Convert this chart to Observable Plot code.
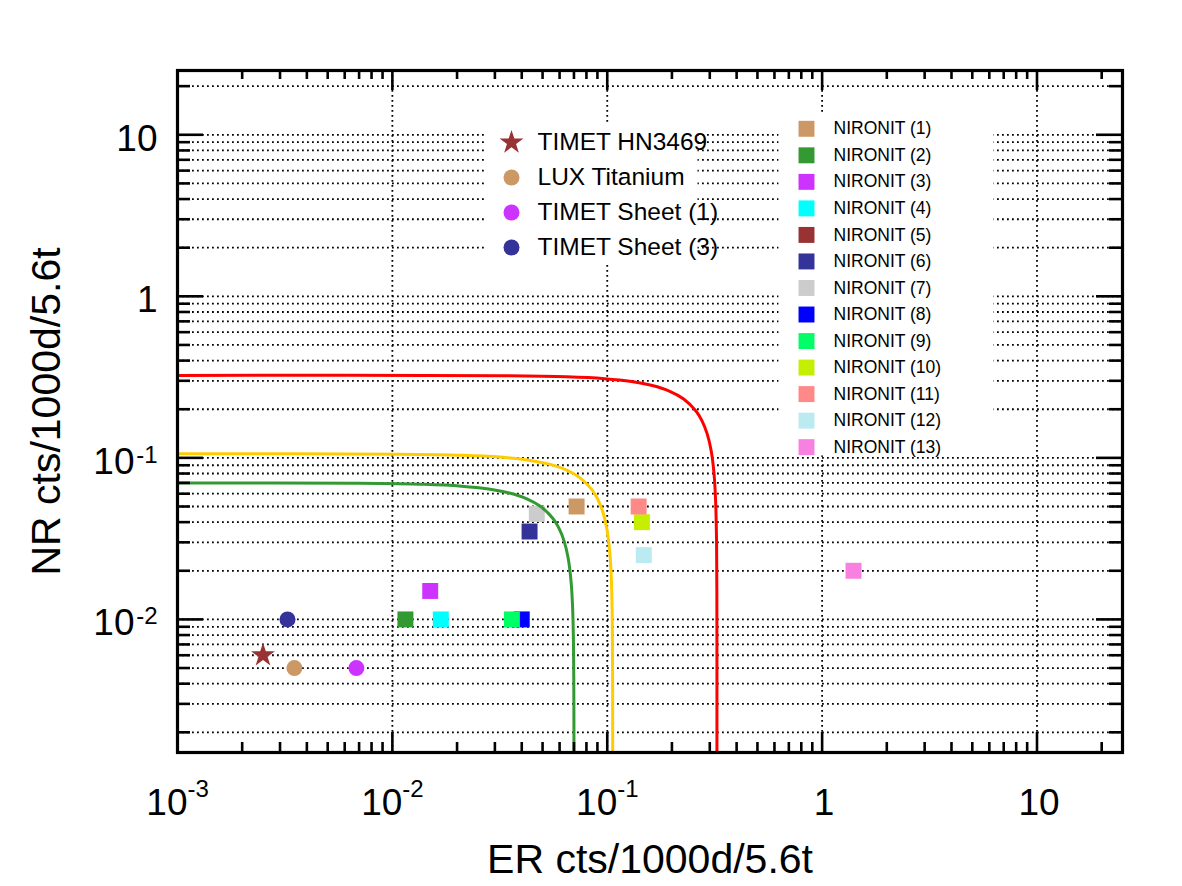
<!DOCTYPE html>
<html>
<head>
<meta charset="utf-8">
<script src="https://cdn.jsdelivr.net/npm/d3@7"></script>
<script src="https://cdn.jsdelivr.net/npm/@observablehq/plot@0.6"></script>
<style>
  html, body { margin: 0; padding: 0; background: #ffffff; }
  #chart { width: 1182px; height: 886px; }
</style>
</head>
<body>
<div id="chart"></div>
<script>
// ---- Titanium samples: ER and NR rates (cts / 1000 d / 5.6 t)
const tiNames = ["TIMET HN3469", "LUX Titanium", "TIMET Sheet (1)", "TIMET Sheet (3)"];
const tiER = [0.0025, 0.0035, 0.0068, 0.00325];
const tiNR = [0.006, 0.005, 0.005, 0.01];
const tiSymbols = ["star", "circle", "circle", "circle"];
const tiColors = ["#993333", "#cc9966", "#cc33ff", "#333399"];

// ---- NIRONIT steel samples (sample 5 has no point inside the plotted range)
const niNames = ["NIRONIT (1)", "NIRONIT (2)", "NIRONIT (3)", "NIRONIT (4)", "NIRONIT (5)",
  "NIRONIT (6)", "NIRONIT (7)", "NIRONIT (8)", "NIRONIT (9)", "NIRONIT (10)",
  "NIRONIT (11)", "NIRONIT (12)", "NIRONIT (13)"];
const niER = [0.072, 0.0115, 0.015, 0.0168, null, 0.0435, 0.047, 0.040, 0.036, 0.145, 0.140, 0.148, 1.4];
const niNR = [0.05, 0.01, 0.015, 0.01, null, 0.035, 0.045, 0.01, 0.01, 0.04, 0.05, 0.025, 0.02];
const niColors = ["#cc9966", "#339933", "#cc33ff", "#00ffff", "#993333", "#333399", "#cccccc",
  "#0000ff", "#00ff66", "#c6ee00", "#ff8888", "#bbeaf0", "#f780e0"];

// ---- Background limit contours
const redER = [0.001, 0.0324, 0.0648, 0.0972, 0.1296, 0.162, 0.1944, 0.2268, 0.2592, 0.2754, 0.2916, 0.3046, 0.3143, 0.3191, 0.3224, 0.3237, 0.324];
const redNR = [0.324, 0.3224, 0.3175, 0.3091, 0.297, 0.2806, 0.2592, 0.2314, 0.1944, 0.1707, 0.1412, 0.1105, 0.0788, 0.0559, 0.0324, 0.0145, 0.0015];
const goldER = [0.001, 0.0106, 0.0212, 0.0318, 0.0424, 0.053, 0.0636, 0.0742, 0.0848, 0.0901, 0.0954, 0.09964, 0.10282, 0.10441, 0.10547, 0.10589, 0.106];
const goldNR = [0.106, 0.10547, 0.10386, 0.10112, 0.09715, 0.0918, 0.0848, 0.0757, 0.0636, 0.05584, 0.0462, 0.03616, 0.02577, 0.01829, 0.01059, 0.00474, 0.0015];
const greenER = [0.001, 0.007, 0.014, 0.021, 0.028, 0.035, 0.042, 0.049, 0.056, 0.0595, 0.063, 0.0658, 0.0679, 0.06895, 0.06965, 0.06993, 0.070];
const greenNR = [0.070, 0.06965, 0.06859, 0.06678, 0.06416, 0.06062, 0.056, 0.04999, 0.042, 0.03687, 0.03051, 0.02388, 0.01702, 0.01208, 0.00699, 0.00313, 0.0015];

// ---- Axis ticks and labels
const xMajor = [0.01, 0.1, 1, 10];
const yMajor = [0.01, 0.1, 1, 10];
const xTickValues = [0.001, 0.01, 0.1, 1, 10];
const xTickBase = ["10", "10", "10", "1", "10"];
const xTickExp = ["-3", "-2", "-1", "", ""];
const yTickValues = [0.01, 0.1, 1, 10];
const yTickBase = ["10", "10", "1", "10"];
const yTickExp = ["-2", "-1", "", ""];
const xTitle = "ER cts/1000d/5.6t";
const yTitle = "NR cts/1000d/5.6t";

const xDomain = [0.001, 25];
const yDomain = [0.0015, 25];

// minor ticks: 2..9 within each decade, kept inside the domain
function minorTicks([lo, hi]) {
  const out = [];
  for (let e = -4; e <= 2; e++) {
    for (let m = 2; m <= 9; m++) {
      const v = +(m * Math.pow(10, e)).toPrecision(6);
      if (v > lo && v < hi) out.push(v);
    }
  }
  return out;
}
const xMinor = minorTicks(xDomain);
const yMinor = minorTicks(yDomain);

// ---- Tables built from the arrays
const tiRows = tiNames.map((name, i) => ({name, er: tiER[i], nr: tiNR[i], symbol: tiSymbols[i], color: tiColors[i]}));
const niRows = niNames.map((name, i) => ({name, er: niER[i], nr: niNR[i], color: niColors[i]}))
  .filter(d => d.er != null && d.nr != null);
const curveRows = [
  ...redER.map((er, i) => ({name: "red", er, nr: redNR[i], color: "#ff0000"})),
  ...goldER.map((er, i) => ({name: "gold", er, nr: goldNR[i], color: "#ffcc00"})),
  ...greenER.map((er, i) => ({name: "green", er, nr: greenNR[i], color: "#339933"}))
];
const xLabels = xTickValues.map((v, i) => ({v, base: xTickBase[i], exp: xTickExp[i]}));
const yLabels = yTickValues.map((v, i) => ({v, base: yTickBase[i], exp: yTickExp[i]}));

// ---- Layout
const W = 1182, H = 886;
const mL = 177, mR = 60, mT = 70, mB = 134;
const fw = W - mL - mR;
const fh = H - mT - mB;
const font = "Liberation Sans, Arial, Helvetica, sans-serif";
const grid = {stroke: "#000", strokeWidth: 1.8, strokeDasharray: "1.8,3.2"};
const tick = {stroke: "#000", strokeWidth: 2.6};
const starR = 7.5, circleR = 8, squareR = 9;

// legend entries
const legendTi = tiRows.flatMap((d, i) => [
  Plot.dot([d], {frameAnchor: "top-left", dx: 334, dy: 72 + 35 * i, symbol: d.symbol,
    r: d.symbol === "star" ? starR : circleR, fill: d.color, stroke: "none"}),
  Plot.text([d], {frameAnchor: "top-left", dx: 360, dy: 72 + 35 * i, text: "name",
    textAnchor: "start", lineAnchor: "middle", fontSize: 24.5, fontFamily: font, fill: "#000"})
]);
const legendNi = niNames.flatMap((name, i) => [
  Plot.dot([name], {frameAnchor: "top-left", dx: 629, dy: 58.3 + 26.53 * i, symbol: "square",
    r: squareR, fill: niColors[i], stroke: "none"}),
  Plot.text([name], {frameAnchor: "top-left", dx: 656, dy: 58.3 + 26.53 * i, text: d => d,
    textAnchor: "start", lineAnchor: "middle", fontSize: 17.5, fontFamily: font, fill: "#000"})
]);

const chart = Plot.plot({
  width: W,
  height: H,
  marginLeft: mL,
  marginRight: mR,
  marginTop: mT,
  marginBottom: mB,
  style: {background: "#ffffff", fontFamily: font, overflow: "visible"},
  x: {type: "log", domain: xDomain, axis: null},
  y: {type: "log", domain: yDomain, axis: null},
  color: {type: "identity"},
  marks: [
    // dotted grid: every y tick, x decades only
    Plot.ruleY([...yMajor, ...yMinor], grid),
    Plot.ruleX(xMajor, grid),

    // legend backgrounds
    Plot.frame({fill: "#ffffff", stroke: "none", insetLeft: 309, insetRight: 425, insetTop: 52, insetBottom: 490}),
    Plot.frame({fill: "#ffffff", stroke: "none", insetLeft: 601, insetRight: 129, insetTop: 43, insetBottom: 297}),

    // sample points
    Plot.dot(niRows, {x: "er", y: "nr", symbol: "square", r: squareR, fill: "color", stroke: "none"}),
    Plot.dot(tiRows.filter(d => d.symbol === "circle"), {x: "er", y: "nr", symbol: "circle", r: circleR, fill: "color", stroke: "none"}),
    Plot.dot(tiRows.filter(d => d.symbol === "star"), {x: "er", y: "nr", symbol: "star", r: starR, fill: "color", stroke: "none"}),

    // limit contours
    Plot.line(curveRows, {x: "er", y: "nr", z: "name", stroke: "color", strokeWidth: 3, curve: "catmull-rom", clip: true}),

    // inward ticks on all four sides
    Plot.ruleX(xMajor, {...tick, insetTop: fh - 20}),
    Plot.ruleX(xMinor, {...tick, insetTop: fh - 10}),
    Plot.ruleX(xMajor, {...tick, insetBottom: fh - 20}),
    Plot.ruleX(xMinor, {...tick, insetBottom: fh - 9}),
    Plot.ruleY(yMajor, {...tick, insetRight: fw - 26}),
    Plot.ruleY(yMinor, {...tick, insetRight: fw - 13}),
    Plot.ruleY(yMajor, {...tick, insetLeft: fw - 26}),
    Plot.ruleY(yMinor, {...tick, insetLeft: fw - 13}),
    Plot.frame({stroke: "#000", strokeWidth: 3.2}),

    // x tick labels (base + superscript exponent)
    Plot.text(xLabels.filter(d => d.exp), {x: "v", text: "base", frameAnchor: "bottom", lineAnchor: "middle",
      textAnchor: "end", dx: 10, dy: 51, fontSize: 37, fontFamily: font, fill: "#000"}),
    Plot.text(xLabels.filter(d => d.exp), {x: "v", text: "exp", frameAnchor: "bottom", lineAnchor: "middle",
      textAnchor: "start", dx: 10, dy: 37, fontSize: 24, fontFamily: font, fill: "#000"}),
    Plot.text(xLabels.filter(d => !d.exp), {x: "v", text: "base", frameAnchor: "bottom", lineAnchor: "middle",
      textAnchor: "middle", dx: 2, dy: 51, fontSize: 37, fontFamily: font, fill: "#000"}),

    // y tick labels
    Plot.text(yLabels.filter(d => d.exp), {y: "v", text: "base", frameAnchor: "left", lineAnchor: "middle",
      textAnchor: "end", dx: -43, dy: 4, fontSize: 37, fontFamily: font, fill: "#000"}),
    Plot.text(yLabels.filter(d => d.exp), {y: "v", text: "exp", frameAnchor: "left", lineAnchor: "middle",
      textAnchor: "end", dx: -20, dy: -3, fontSize: 24, fontFamily: font, fill: "#000"}),
    Plot.text(yLabels.filter(d => !d.exp), {y: "v", text: "base", frameAnchor: "left", lineAnchor: "middle",
      textAnchor: "end", dx: -20, dy: 4, fontSize: 37, fontFamily: font, fill: "#000"}),

    // axis titles
    Plot.text([xTitle], {frameAnchor: "bottom", lineAnchor: "middle", textAnchor: "middle", dy: 107,
      text: d => d, fontSize: 41, fontFamily: font, fill: "#000"}),
    Plot.text([yTitle], {frameAnchor: "left", lineAnchor: "middle", textAnchor: "middle", dx: -131, rotate: -90,
      text: d => d, fontSize: 41, fontFamily: font, fill: "#000"}),

    // legends
    ...legendTi,
    ...legendNi
  ]
});

document.getElementById("chart").appendChild(chart);
</script>
</body>
</html>
